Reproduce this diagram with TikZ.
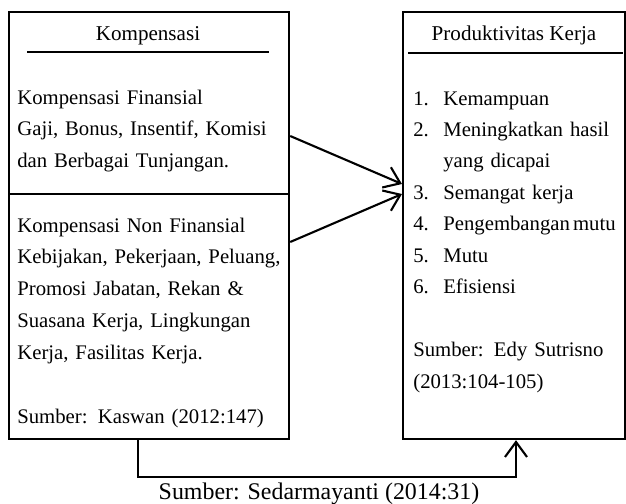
\documentclass[tikz,border=0pt]{standalone}
\usepackage{fontspec}
\setmainfont{Liberation Serif}
\usetikzlibrary{arrows.meta}
\newcommand{\jline}[1]{\makebox[\linewidth][s]{#1}}
\tikzset{
  box/.style={draw, line width=1.3pt, inner sep=0pt, anchor=north west},
  txt/.style={inner sep=0pt, anchor=base west, font=\fontsize{11.8}{18.2}\selectfont},
  arr/.style={line width=1.2pt, -{Straight Barb[length=0.3cm,width=0.44cm]}}
}
\begin{document}
\begin{tikzpicture}[x=0.02cm,y=-0.02cm]
  \useasboundingbox (0,0) rectangle (626,504);
  % boxes
  \node[box, minimum width=5.6cm, minimum height=3.64cm] (komptop) at (8,11) {};
  \node[box, minimum width=5.6cm, minimum height=4.9cm] (kompbot) at (8,193) {};
  \node[box, minimum width=4.44cm, minimum height=8.54cm] (prod) at (402,11) {};
  % titles
  \node[txt, anchor=base, font=\fontsize{12}{14}\selectfont] (ktitle) at (148,40) {Kompensasi};
  \draw[line width=1.3pt] (27,52) -- (269,52);
  \node[txt, anchor=base, font=\fontsize{12}{14}\selectfont] (ptitle) at (514,40) {Produktivitas Kerja};
  \draw[line width=1.3pt] (408,53) -- (623,53);
  % texts
  \node[txt, text width=5.28cm] (fin) at (17,104) {Kompensasi Finansial\\
    \jline{Gaji, Bonus, Insentif, Komisi}\\
    dan Berbagai Tunjangan.};
  \node[txt, text width=5.28cm] (nonfin) at (17,232) {Kompensasi Non Finansial\\
    \jline{Kebijakan, Pekerjaan, Peluang,}\\
    \jline{Promosi Jabatan, Rekan \&}\\
    \jline{Suasana Kerja, Lingkungan}\\
    Kerja, Fasilitas Kerja.\\ \mbox{}\\
    Sumber: Kaswan (2012:147)};
  \node[txt, text width=4.16cm, font=\fontsize{11.8}{17.9}\selectfont] (items) at (413,105) {%
    \makebox[0.6cm][l]{1.}Kemampuan\\
    \makebox[0.6cm][l]{2.}Meningkatkan hasil\\
    \hspace*{0.6cm}yang dicapai\\
    \makebox[0.6cm][l]{3.}Semangat kerja\\
    \makebox[0.6cm][l]{4.}\mbox{Pengembangan\hspace{0.15em}mutu}\\
    \makebox[0.6cm][l]{5.}Mutu\\
    \makebox[0.6cm][l]{6.}Efisiensi\\ \mbox{}\\
    \jline{Sumber: Edy Sutrisno}\\
    (2013:104-105)};
  % connectors
  \draw[arr] (komptop.east |- 0,136) -- (prod.west |- 0,184);
  \draw[arr] (kompbot.east |- 0,242) -- (prod.west |- 0,194);
  \draw[arr] (kompbot.south -| 138,0) -- (138,477) -| (prod.south -| 516,0);
  \node[inner sep=0pt, anchor=base, font=\fontsize{13.6}{15}\selectfont] (src) at (319,499) {Sumber: Sedarmayanti (2014:31)};
\end{tikzpicture}
\end{document}
